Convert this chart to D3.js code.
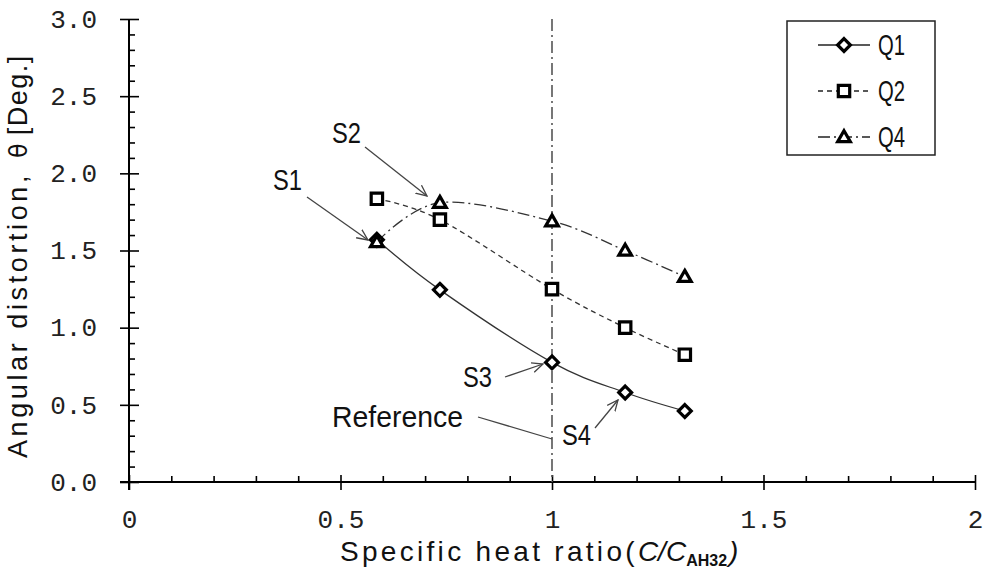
<!DOCTYPE html>
<html>
<head>
<meta charset="utf-8">
<script src="https://cdn.jsdelivr.net/npm/d3@7"></script>
<style>
  html, body { margin: 0; padding: 0; background: #fff; }
  svg { display: block; }
  .tick text { font-family: "Liberation Mono", "DejaVu Sans Mono", monospace; font-size: 26px; fill: #222; }
</style>
</head>
<body>
<svg id="chart" width="989" height="574"></svg>
<script>
// Specific heat ratio (x) and angular distortion for each case
const ratio = [0.586, 0.735, 1.0, 1.173, 1.314];
const q1 = [1.57, 1.245, 0.775, 0.58, 0.46];
const q2 = [1.835, 1.70, 1.25, 1.0, 0.825];
const q4 = [1.555, 1.81, 1.69, 1.50, 1.33];
const seriesNames = ["Q1", "Q2", "Q4"];
const xTickValues = [0, 0.5, 1, 1.5, 2];
const xTickLabels = ["0", "0.5", "1", "1.5", "2"];
const yTickValues = [0, 0.5, 1.0, 1.5, 2.0, 2.5, 3.0];
const yTickLabels = ["0.0", "0.5", "1.0", "1.5", "2.0", "2.5", "3.0"];
const referenceRatio = 1.0;

const svg = d3.select("#chart");
const x = d3.scaleLinear().domain([0, 2]).range([129, 975]);
const y = d3.scaleLinear().domain([0, 3]).range([482, 19]);

const sans = '"Liberation Sans", Arial, sans-serif';

// arrowhead
svg.append("defs").append("marker")
  .attr("id", "arrow").attr("viewBox", "0 0 12 12")
  .attr("refX", 11).attr("refY", 6)
  .attr("markerWidth", 12).attr("markerHeight", 12)
  .attr("markerUnits", "userSpaceOnUse")
  .attr("orient", "auto")
  .append("path").attr("d", "M0,1 L11,6 L0,11")
  .attr("fill", "none").attr("stroke", "#444").attr("stroke-width", 1.3);

// ---- axes ----
const minorX = d3.range(0, 2.0001, 0.1).filter(v => Math.abs(v * 2 - Math.round(v * 2)) > 1e-6);
const minorY = d3.range(0, 3.0001, 0.1).filter(v => Math.abs(v * 2 - Math.round(v * 2)) > 1e-6);

function styleAxis(g) {
  g.select(".domain").remove();
  g.selectAll(".tick line").attr("stroke", "#000").attr("stroke-width", 1.6);
}

// x axis: major ticks crossing, minor ticks inward
const gx = svg.append("g").attr("transform", `translate(0,${y(0)})`);
gx.append("g").call(d3.axisBottom(x).tickValues(xTickValues)
    .tickFormat((d, i) => xTickLabels[i]).tickSizeInner(8).tickSizeOuter(0).tickPadding(20))
  .call(styleAxis);
gx.append("g").call(d3.axisBottom(x).tickValues(xTickValues).tickFormat("").tickSizeInner(-7).tickSizeOuter(0))
  .call(styleAxis);
gx.append("g").call(d3.axisBottom(x).tickValues(minorX).tickFormat("").tickSizeInner(-6).tickSizeOuter(0))
  .call(styleAxis);

// y axis
const gy = svg.append("g").attr("transform", `translate(${x(0)},0)`);
gy.append("g").call(d3.axisLeft(y).tickValues(yTickValues)
    .tickFormat((d, i) => yTickLabels[i]).tickSizeInner(9).tickSizeOuter(0).tickPadding(23))
  .call(styleAxis);
gy.append("g").call(d3.axisLeft(y).tickValues(yTickValues).tickFormat("").tickSizeInner(-10).tickSizeOuter(0))
  .call(styleAxis);
gy.append("g").call(d3.axisLeft(y).tickValues(minorY).tickFormat("").tickSizeInner(-6).tickSizeOuter(0))
  .call(styleAxis);

// axis lines
svg.append("line").attr("x1", x(0) - 9).attr("x2", x(2)).attr("y1", y(0)).attr("y2", y(0))
  .attr("stroke", "#000").attr("stroke-width", 2);
svg.append("line").attr("x1", x(0)).attr("x2", x(0)).attr("y1", y(3)).attr("y2", y(0) + 8)
  .attr("stroke", "#000").attr("stroke-width", 2);

// axis titles
const yTitle = svg.append("text")
  .attr("transform", `translate(27,458) rotate(-90)`)
  .attr("font-family", sans).attr("font-size", 27).attr("fill", "#111");
yTitle.append("tspan").attr("letter-spacing", 3.6).text("Angular distortion,");
yTitle.append("tspan").attr("dx", 14).attr("font-family", '"DejaVu Sans", sans-serif').attr("font-size", 24).text("θ");
yTitle.append("tspan").attr("dx", 8).attr("letter-spacing", 1.5).text("[Deg.]");

const xTitle = svg.append("text")
  .attr("x", 340).attr("y", 561)
  .attr("font-family", sans).attr("font-size", 28).attr("fill", "#111");
xTitle.append("tspan").attr("letter-spacing", 3.3).text("Specific heat ratio(");
xTitle.append("tspan").attr("font-style", "italic").text("C/C");
xTitle.append("tspan").attr("font-size", 16).attr("font-weight", "bold").attr("dy", 5).text("AH32");
xTitle.append("tspan").attr("font-style", "italic").attr("dy", -5).attr("dx", 2).text(")");

// ---- reference line at C/C_AH32 = 1 ----
svg.append("line")
  .attr("x1", x(referenceRatio)).attr("x2", x(referenceRatio))
  .attr("y1", y(3)).attr("y2", y(0))
  .attr("stroke", "#555").attr("stroke-width", 1.6)
  .attr("stroke-dasharray", "12,4,2,4");

// ---- series ----
const series = [
  { name: "Q1", values: q1, dash: null, symbol: d3.symbolDiamond2, size: 105, off: 0 },
  { name: "Q2", values: q2, dash: "5,4", symbol: d3.symbolSquare2, size: 165, off: 0 },
  { name: "Q4", values: q4, dash: "12,4,2,4", symbol: d3.symbolTriangle2, size: 115, off: 1 }
];

const line = d3.line()
  .x(d => x(d[0])).y(d => y(d[1]))
  .curve(d3.curveCatmullRom.alpha(0));

series.forEach(s => {
  const pts = ratio.map((r, i) => [r, s.values[i]]);
  svg.append("path").datum(pts)
    .attr("d", line).attr("fill", "none")
    .attr("stroke", "#333").attr("stroke-width", 1.3)
    .attr("stroke-dasharray", s.dash);
});

function drawSymbol(g, s, cx, cy) {
  g.append("path")
    .attr("d", d3.symbol().type(s.symbol).size(s.size)())
    .attr("transform", `translate(${cx},${cy + s.off})`)
    .attr("fill", "#fff").attr("stroke", "#000").attr("stroke-width", 3.2)
    .attr("stroke-linejoin", "miter");
}

series.forEach(s => {
  const g = svg.append("g");
  ratio.forEach((r, i) => drawSymbol(g, s, x(r), y(s.values[i])));
});

// ---- legend ----
const legend = svg.append("g");
legend.append("rect").attr("x", 787).attr("y", 21).attr("width", 148).attr("height", 134)
  .attr("fill", "#fff").attr("stroke", "#222").attr("stroke-width", 1.5);
series.forEach((s, i) => {
  const cy = 45 + i * 46;
  legend.append("line").attr("x1", 818).attr("x2", 870).attr("y1", cy).attr("y2", cy)
    .attr("stroke", "#222").attr("stroke-width", 1.5).attr("stroke-dasharray", s.dash);
  drawSymbol(legend, s, 844, cy);
  legend.append("text").attr("x", 878).attr("y", cy + 10)
    .attr("font-family", sans).attr("font-size", 29).attr("fill", "#111")
    .attr("textLength", 27).attr("lengthAdjust", "spacingAndGlyphs")
    .text(seriesNames[i]);
});

// ---- annotations ----
const notes = [
  { label: "S1", tx: 273, ty: 190, from: [307, 197], to: [368, 240] },
  { label: "S2", tx: 332, ty: 143, from: [365, 147], to: [427, 196] },
  { label: "S3", tx: 463, ty: 387, from: [505, 377], to: [543, 364] },
  { label: "S4", tx: 562, ty: 445, from: [595, 428], to: [618, 400] }
];
notes.forEach(n => {
  svg.append("text").attr("x", n.tx).attr("y", n.ty)
    .attr("font-family", sans).attr("font-size", 29).attr("fill", "#111")
    .attr("textLength", 29).attr("lengthAdjust", "spacingAndGlyphs")
    .text(n.label);
  svg.append("line").attr("x1", n.from[0]).attr("y1", n.from[1])
    .attr("x2", n.to[0]).attr("y2", n.to[1])
    .attr("stroke", "#444").attr("stroke-width", 1.3).attr("marker-end", "url(#arrow)");
});
svg.append("text").attr("x", 332).attr("y", 427)
  .attr("font-family", sans).attr("font-size", 29)
  .attr("textLength", 131).attr("lengthAdjust", "spacingAndGlyphs")
  .attr("fill", "#111").text("Reference");
svg.append("line").attr("x1", 478).attr("y1", 417).attr("x2", x(referenceRatio)).attr("y2", 439)
  .attr("stroke", "#444").attr("stroke-width", 1.3);
</script>
</body>
</html>
